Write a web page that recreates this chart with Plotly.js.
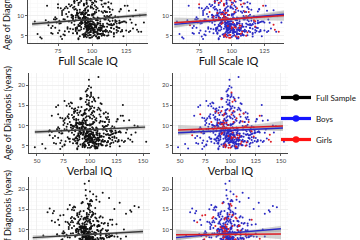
<!DOCTYPE html>
<html>
<head>
<meta charset="utf-8">
<script src="https://cdn.plot.ly/plotly-3.0.1.min.js"></script>
<style>
  html, body { margin: 0; padding: 0; overflow: hidden; background: #fff; width: 360px; height: 240px; }
  #chart { position: absolute; left: 0; top: -50px; width: 360px; height: 330px; }
</style>
</head>
<body>
<div id="chart"></div>
<script>
// Age at diagnosis (years), one entry per child
const ageDx = [
  7.2, 5.8, 9.4, 6.1, 12.3, 8.0, 4.6, 7.7, 10.9, 6.5, 15.2, 8.8, 5.3, 7.0, 11.6, 9.1, 6.8, 4.2, 13.7, 8.4,
  6.3, 9.9, 7.5, 5.1, 17.4, 8.2, 10.3, 6.0, 7.9, 12.8, 5.6, 9.6, 14.1, 7.3, 6.7, 8.6, 4.9, 11.2, 7.1, 9.0,
  21.3, 6.2, 8.1, 5.5, 10.6, 7.6, 13.2, 6.9, 9.3, 4.4, 7.4, 16.3, 8.7, 5.9, 11.9, 6.4, 10.1, 7.8, 5.0, 12.1,
  8.3, 6.6, 9.7, 18.2, 7.0, 5.4, 10.8, 6.1, 8.5, 14.6, 7.2, 5.7, 9.2, 11.4, 6.8, 4.7, 8.9, 13.0, 7.5, 6.0,
  9.8, 5.2, 22.0, 7.7, 10.4, 6.3, 8.0, 15.8, 5.8, 9.5, 7.3, 12.6, 6.5, 4.3, 8.2, 11.0, 7.9, 6.2, 17.0, 9.0,
  5.6, 8.6, 7.1, 10.2, 6.7, 13.5, 5.3, 9.3, 7.6, 4.8, 11.7, 8.1, 6.0, 16.6, 7.4, 9.9, 5.9, 12.4, 8.4, 6.9,
  10.7, 7.2, 5.0, 14.3, 8.8, 6.4, 9.6, 7.8, 19.1, 5.5, 8.3, 11.3, 6.6, 7.0, 10.0, 4.5, 12.9, 8.7, 6.1, 9.1,
  7.5, 15.0, 5.7, 8.0, 6.8, 10.5, 7.3, 13.9, 5.1, 9.4, 6.3, 8.5, 11.8, 7.7, 4.1, 17.8, 6.9, 9.7, 8.2, 5.4,
  12.2, 7.1, 6.5, 10.9, 8.9, 5.8, 16.0, 7.6, 9.2, 6.2, 11.5, 8.1, 4.9, 14.8, 7.4, 6.0, 10.3, 8.6, 5.2, 13.3,
  7.9, 6.7, 9.5, 18.7, 5.6, 8.3, 7.0, 11.1, 6.4, 9.8, 12.7, 5.3, 8.0, 7.2, 15.5, 6.6, 10.6, 4.6, 8.8, 7.6,
  6.1, 9.0, 13.6, 5.9, 7.8, 10.1, 6.9, 8.4, 16.9, 5.0, 7.3, 11.4, 9.3, 6.3, 12.0, 8.2, 5.5, 14.0, 7.1, 9.6,
  6.8, 10.8, 5.7, 8.6, 7.5, 19.8, 6.0, 9.1, 11.9, 7.7, 4.4, 8.0, 13.1, 6.5, 10.4, 5.4, 7.9, 15.3, 8.7, 6.2,
  9.4, 7.4, 12.5, 5.1, 8.1, 6.7, 17.2, 10.0, 7.0, 5.8, 9.7, 14.4, 6.4, 8.5, 11.2, 7.6, 4.8, 10.7, 6.9, 8.3,
  10.2, 6.9, 13.8, 8.3, 5.2, 11.5, 7.4, 15.6, 9.0, 6.1, 12.7, 4.7, 8.8, 10.9, 7.0, 14.2, 5.8, 9.5, 11.1, 6.4,
  8.0, 12.4, 6.7, 9.9, 16.4, 5.5, 10.5, 7.8, 13.1, 4.9, 8.6, 11.8, 6.2, 9.2, 15.1, 7.3, 10.0, 5.1, 12.9, 8.4,
  6.6, 11.3, 9.6, 14.9, 7.1, 5.9, 10.7, 8.2, 17.6, 6.0, 12.2, 9.0, 4.5, 11.0, 7.7, 13.4, 8.9, 6.3, 10.3, 14.6,
  5.4, 9.3, 7.6, 12.0, 8.5, 16.1, 6.8, 10.8, 7.2, 13.7, 5.7, 9.8, 11.6, 4.3, 8.1, 15.4, 6.5, 10.1, 7.9, 12.6,
  9.1, 6.2, 11.9, 7.5, 14.5, 8.7, 5.3, 10.4, 6.9, 13.0, 8.3, 17.0, 5.9, 9.7, 11.2, 7.0, 12.3, 4.8, 8.9, 10.6,
  7.3, 15.9, 6.1, 9.4, 11.4, 5.6, 8.0, 13.3, 6.6, 10.0, 7.8, 12.5, 9.2, 5.0, 14.1, 8.4, 6.7, 10.9, 7.1, 18.4,
  11.7, 6.4, 8.6, 13.9, 5.2, 9.6, 7.4, 10.2, 16.7, 6.0, 8.2, 12.1, 7.6, 4.6, 11.1, 9.0, 14.7, 6.8, 10.5, 8.8,
  5.8, 12.8, 7.7, 9.9, 6.3, 15.2, 8.1, 10.7, 5.5, 13.6, 7.0, 9.3, 11.5, 6.5, 8.5, 16.2, 4.4, 10.3, 7.9, 12.3,
  9.5, 6.9, 14.3, 8.3, 5.1, 11.8, 7.2, 10.1, 13.2, 6.2, 8.9, 15.7, 7.5, 9.7, 5.7, 12.0, 8.0, 10.8, 6.6, 17.3,
  7.8, 10.4, 5.9, 13.5, 9.1, 6.7, 11.3, 8.6, 14.8, 4.9, 9.4, 7.3, 12.6, 6.0, 10.6, 8.2, 15.0, 5.4, 11.0, 7.6,
  12.9, 8.7, 6.4, 10.0, 7.1, 16.5, 5.6, 9.8, 11.6, 6.8, 13.8, 8.4, 5.0, 10.5, 7.7, 12.2, 9.2, 6.1, 14.0, 8.0,
  6.5, 11.2, 8.8, 5.3, 13.1, 7.4, 10.2, 9.0, 15.5, 6.2, 8.3, 12.7, 4.7, 9.6, 7.0, 11.4, 6.9, 14.4, 8.5, 10.9,
  7.5, 13.0, 5.8, 9.3, 12.4, 6.3, 10.7, 8.1, 16.8, 5.5, 11.8, 7.9, 9.9, 6.6, 13.6, 8.6, 4.5, 10.1, 7.2, 19.4
];

// Full Scale IQ
const fsiq = [
  97, 102, 90, 108, 84, 99, 62, 95, 113, 88, 100, 104, 93, 97, 121, 86, 101, 78, 107, 95,
  91, 111, 99, 80, 102, 104, 89, 96, 116, 75, 101, 94, 106, 98, 84, 99, 103, 127, 92, 110,
  96, 88, 98, 105, 95, 114, 100, 70, 97, 90, 108, 102, 93, 99, 86, 122, 97, 104, 94, 112,
  101, 92, 82, 104, 96, 106, 89, 110, 98, 72, 95, 116, 93, 103, 88, 100, 96, 109, 91, 134,
  130, 98, 105, 95, 101, 90, 104, 99, 112, 85, 99, 94, 102, 63, 97, 107, 92, 119, 104, 96,
  89, 100, 106, 94, 97, 87, 104, 115, 97, 77, 101, 91, 108, 103, 96, 86, 99, 126, 95, 106,
  93, 98, 111, 86, 103, 97, 90, 101, 100, 107, 92, 132, 96, 105, 88, 99, 96, 115, 102, 79,
  97, 74, 95, 106, 100, 89, 103, 98, 109, 93, 99, 83, 104, 98, 90, 102, 120, 94, 96, 106,
  87, 102, 97, 110, 92, 98, 103, 68, 99, 113, 95, 105, 91, 101, 96, 136, 92, 97, 108, 96,
  99, 94, 104, 101, 86, 101, 114, 97, 106, 90, 100, 96, 76, 103, 108, 98, 93, 105, 88, 102,
  96, 109, 92, 103, 98, 85, 100, 95, 106, 97, 118, 91, 102, 97, 112, 93, 104, 99, 89, 101,
  96, 103, 97, 92, 107, 98, 110, 94, 99, 87, 105, 96, 90, 101, 95, 60, 100, 108, 95, 104,
  91, 97, 102, 112, 93, 99, 96, 89, 103, 98, 95, 106, 100, 124, 94, 97, 103, 92, 98, 138,
  85, 114, 96, 74, 102, 121, 90, 98, 128, 80, 107, 94, 66, 111, 100, 88, 118, 96, 78, 105,
  92, 124, 82, 109, 97, 71, 102, 116, 87, 95, 113, 77, 106, 91, 126, 99, 85, 109, 94, 68,
  104, 89, 119, 81, 100, 114, 93, 129, 97, 83, 108, 73, 98, 120, 90, 103, 112, 76, 100, 93,
  116, 86, 106, 96, 123, 79, 101, 91, 111, 99, 70, 117, 88, 104, 95, 82, 133, 97, 108, 85,
  98, 111, 75, 102, 90, 120, 95, 81, 107, 114, 92, 100, 127, 86, 105, 73, 99, 116, 94, 89,
  108, 101, 122, 91, 79, 104, 96, 112, 86, 135, 100, 94, 74, 107, 97, 117, 89, 102, 82, 96,
  95, 118, 87, 106, 99, 110, 71, 101, 93, 121, 85, 103, 115, 96, 109, 80, 100, 130, 90, 104,
  101, 83, 113, 94, 125, 98, 77, 108, 89, 102, 119, 95, 87, 110, 58, 99, 105, 92, 114, 97,
  88, 107, 100, 121, 95, 80, 109, 98, 91, 128, 103, 84, 96, 112, 75, 100, 118, 93, 105, 101,
  112, 93, 102, 87, 72, 116, 97, 106, 83, 123, 95, 108, 90, 101, 78, 120, 99, 94, 110, 103,
  96, 76, 107, 100, 118, 92, 104, 86, 113, 98, 89, 122, 101, 95, 132, 81, 106, 96, 87, 111,
  106, 95, 117, 79, 101, 91, 114, 99, 85, 109, 125, 94, 105, 73, 100, 115, 88, 103, 97, 83,
  99, 110, 89, 105, 67, 101, 96, 120, 92, 108, 82, 102, 113, 98, 87, 118, 104, 78, 95, 100
];

// Verbal IQ
const viq = [
  96, 104, 88, 112, 79, 101, 48, 93, 118, 85, 97, 107, 91, 99, 126, 83, 102, 72, 110, 94,
  89, 115, 100, 76, 98, 106, 87, 95, 121, 70, 103, 92, 109, 97, 81, 100, 105, 132, 90, 113,
  99, 86, 97, 108, 94, 119, 102, 65, 96, 88, 111, 104, 91, 100, 84, 127, 98, 106, 93, 117,
  103, 90, 78, 101, 95, 108, 87, 114, 99, 68, 96, 120, 92, 105, 86, 101, 97, 113, 89, 153,
  145, 99, 108, 94, 102, 88, 107, 96, 116, 82, 100, 92, 104, 58, 98, 110, 91, 124, 103, 95,
  87, 101, 109, 93, 98, 85, 106, 120, 96, 74, 102, 89, 111, 104, 97, 84, 100, 131, 94, 108,
  92, 99, 115, 83, 105, 96, 88, 102, 98, 110, 91, 137, 97, 107, 86, 100, 95, 119, 103, 76,
  98, 70, 94, 109, 101, 87, 104, 96, 112, 92, 100, 80, 106, 99, 88, 101, 125, 93, 97, 108,
  85, 103, 96, 114, 91, 99, 105, 62, 100, 117, 94, 107, 89, 102, 97, 140, 90, 98, 111, 95,
  100, 93, 106, 97, 84, 102, 118, 96, 109, 88, 101, 95, 73, 104, 110, 99, 92, 107, 86, 103,
  97, 112, 91, 105, 99, 82, 101, 94, 108, 96, 123, 89, 103, 98, 115, 92, 106, 100, 87, 102,
  95, 104, 98, 90, 109, 99, 113, 93, 100, 85, 107, 97, 88, 102, 96, 55, 101, 111, 94, 106,
  90, 98, 103, 116, 92, 100, 97, 87, 105, 99, 94, 108, 101, 128, 93, 96, 104, 91, 99, 143,
  82, 118, 95, 71, 104, 126, 88, 99, 135, 77, 109, 93, 62, 114, 101, 86, 122, 96, 75, 107,
  91, 129, 80, 112, 97, 68, 103, 120, 85, 95, 116, 74, 108, 90, 131, 99, 83, 111, 94, 64,
  106, 87, 123, 78, 101, 117, 92, 134, 97, 81, 110, 69, 98, 125, 89, 104, 115, 73, 100, 92,
  119, 84, 107, 96, 128, 76, 102, 90, 113, 99, 66, 121, 87, 105, 94, 80, 138, 97, 109, 83,
  98, 114, 72, 103, 89, 124, 95, 79, 108, 117, 91, 100, 132, 85, 106, 70, 99, 119, 93, 88,
  110, 102, 127, 90, 76, 105, 96, 115, 84, 142, 100, 93, 71, 108, 97, 120, 88, 103, 79, 96,
  94, 121, 86, 107, 99, 113, 67, 101, 92, 126, 83, 104, 118, 95, 110, 78, 100, 136, 89, 105,
  102, 80, 116, 93, 130, 98, 74, 109, 88, 103, 123, 95, 85, 112, 61, 99, 106, 91, 117, 97,
  87, 108, 101, 125, 94, 77, 111, 98, 90, 133, 104, 82, 96, 114, 72, 100, 122, 93, 106, 101,
  115, 92, 103, 86, 69, 119, 97, 107, 81, 128, 95, 110, 89, 101, 76, 124, 99, 93, 112, 104,
  96, 73, 109, 100, 121, 91, 105, 84, 116, 98, 88, 127, 102, 94, 139, 79, 107, 96, 85, 113,
  108, 95, 120, 76, 102, 90, 117, 99, 83, 111, 129, 94, 106, 70, 100, 118, 87, 104, 97, 81,
  99, 113, 88, 106, 64, 102, 96, 124, 91, 110, 80, 103, 116, 98, 86, 121, 105, 75, 95, 101
];

// Performance IQ
const piq = [
  98, 100, 93, 104, 90, 97, 78, 97, 108, 92, 62, 101, 95, 96, 114, 89, 100, 85, 103, 96,
  94, 107, 98, 86, 106, 102, 92, 97, 110, 82, 99, 96, 103, 99, 88, 98, 101, 121, 95, 106,
  95, 91, 99, 102, 96, 108, 98, 77, 98, 93, 105, 100, 95, 98, 89, 116, 96, 102, 95, 107,
  99, 94, 87, 106, 97, 104, 91, 106, 97, 66, 94, 111, 94, 101, 90, 99, 95, 105, 93, 124,
  117, 97, 99, 96, 100, 92, 101, 142, 107, 89, 98, 96, 100, 70, 96, 104, 93, 113, 102, 97,
  91, 99, 103, 95, 96, 72, 102, 110, 98, 81, 100, 93, 105, 128, 97, 89, 98, 119, 96, 103,
  94, 97, 107, 60, 101, 98, 92, 100, 112, 104, 94, 125, 95, 103, 91, 98, 97, 69, 100, 84,
  96, 79, 96, 103, 99, 91, 102, 134, 106, 94, 98, 87, 67, 97, 92, 118, 115, 95, 97, 104,
  64, 100, 98, 107, 94, 97, 99, 74, 98, 109, 93, 103, 92, 138, 97, 130, 94, 96, 105, 97,
  98, 95, 102, 103, 88, 100, 110, 71, 104, 92, 98, 97, 81, 101, 146, 97, 95, 103, 90, 100,
  97, 106, 75, 101, 97, 88, 99, 96, 109, 98, 113, 93, 100, 96, 108, 94, 102, 65, 91, 99,
  97, 101, 96, 93, 104, 96, 107, 95, 98, 90, 102, 97, 83, 100, 96, 63, 99, 105, 96, 102,
  93, 96, 100, 109, 94, 98, 101, 90, 101, 97, 96, 139, 99, 121, 95, 98, 101, 93, 97, 134,
  88, 111, 97, 76, 103, 117, 91, 99, 125, 83, 106, 95, 69, 109, 100, 90, 115, 97, 81, 104,
  93, 121, 84, 107, 98, 74, 101, 113, 89, 96, 110, 79, 105, 92, 123, 99, 87, 107, 95, 71,
  103, 90, 116, 83, 100, 112, 94, 126, 97, 85, 107, 75, 98, 117, 91, 102, 110, 78, 100, 94,
  114, 87, 105, 96, 120, 81, 101, 92, 109, 99, 72, 115, 89, 103, 95, 84, 130, 97, 107, 86,
  98, 109, 77, 102, 91, 118, 95, 83, 106, 112, 93, 100, 124, 87, 104, 75, 99, 114, 94, 90,
  106, 101, 120, 92, 80, 103, 96, 110, 87, 132, 100, 94, 76, 106, 97, 115, 90, 102, 84, 96,
  95, 116, 88, 105, 99, 108, 73, 101, 93, 119, 86, 103, 113, 96, 108, 82, 100, 127, 91, 104,
  101, 85, 111, 94, 122, 98, 79, 107, 90, 102, 117, 95, 88, 109, 56, 99, 104, 92, 112, 97,
  89, 106, 100, 119, 95, 82, 108, 98, 92, 126, 103, 85, 96, 110, 77, 100, 116, 93, 104, 101,
  110, 93, 102, 88, 74, 114, 97, 105, 85, 121, 95, 107, 91, 101, 80, 118, 99, 94, 109, 103,
  96, 78, 106, 100, 116, 92, 103, 87, 111, 98, 90, 120, 101, 95, 129, 83, 105, 96, 88, 110,
  105, 95, 115, 81, 101, 92, 112, 99, 86, 108, 123, 94, 104, 75, 100, 113, 89, 102, 97, 85,
  99, 109, 90, 104, 70, 101, 96, 118, 93, 107, 84, 102, 111, 98, 88, 116, 103, 80, 95, 100
];

// B = boy, G = girl
const sex = (
  "BBGBBBBBGBBBBBBGBBBB" + "BGBBBBBBBGBBBBBBGBBB" + "BBBBGBBBBBBGBBBBBBGB" +
  "BBBGBBBBBBBBGBBBBGBB" + "BGBBBBBBGBBBBBBBGBBB" + "BBBBBGBBBBBBGBBBBBBG" +
  "BBGBBBBBBGBBBBBGBBBB" + "BBBBGBBBBBBBGBBBBGBB" + "BGBBBBBGBBBBBBBGBBBB" +
  "BBBBBGBBBBGBBBBBBBGB" + "BBGBBBBBBBGBBBBGBBBB" + "BBBBGBBBBBBBGBBBBBGB" +
  "BGBBBBBBGBBBBBGBBBBB" + "BBBGBBBBBBGBBBBBBGBB" + "BGBBBBBBBGBBBBBBBBGB" +
  "BBBBGBBBBBBBGBBBBBBB" + "BBGBBBBBBGBBBBBBGBBB" + "BBBBBBGBBBBBBGBBBBBG" +
  "BGBBBBBBBBBGBBBBBGBB" + "BBBBGBBBBBBBBGBBBBBB" + "BBBGBBBBBGBBBBBBBGBB" +
  "BBBBBBBGBBBBBGBBBBBB" + "BGBBBBBBBBGBBBBBBBGB" + "BBBBBGBBBBBBBBGBBBBB" +
  "BBGBBBBBBBBBGBBBBBBG" + "BBBBBBGBBBBBBBBGBBBB"
).split("");

// Linear fits with confidence half-widths, sampled along each IQ scale
const fsiqFitX   = [56, 77, 98, 119, 140];
const fsiqAll    = [7.9, 8.48, 9.05, 9.63, 10.2];
const fsiqAllCi  = [0.6, 0.32, 0.16, 0.32, 0.6];
const fsiqBoys   = [7.8, 8.42, 9.05, 9.68, 10.3];
const fsiqBoysCi = [0.7, 0.36, 0.18, 0.36, 0.7];
const fsiqGirls  = [8.2, 8.65, 9.1, 9.55, 10.0];
const fsiqGirlsCi= [1.3, 0.7, 0.38, 0.7, 1.3];

const viqFitX    = [48, 74, 100, 126, 152];
const viqAll     = [8.4, 8.7, 9.0, 9.3, 9.6];
const viqAllCi   = [0.55, 0.28, 0.15, 0.3, 0.6];
const viqBoys    = [8.2, 8.5, 8.8, 9.1, 9.4];
const viqBoysCi  = [0.65, 0.33, 0.17, 0.34, 0.7];
const viqGirls   = [8.9, 9.15, 9.4, 9.65, 9.9];
const viqGirlsCi = [1.2, 0.65, 0.35, 0.65, 1.2];

const piqFitX    = [46, 72, 98, 124, 150];
const piqAll     = [8.0, 8.38, 8.75, 9.13, 9.5];
const piqAllCi   = [0.6, 0.3, 0.16, 0.32, 0.62];
const piqBoys    = [8.0, 8.55, 9.1, 9.65, 10.2];
const piqBoysCi  = [0.7, 0.36, 0.18, 0.36, 0.72];
const piqGirls   = [8.7, 8.75, 8.8, 8.85, 8.9];
const piqGirlsCi = [1.3, 0.7, 0.38, 0.7, 1.3];

const yTicks = [5, 10, 15, 20];
const fsiqTicks = [75, 100, 125];
const viqTicks = [50, 75, 100, 125, 150];
const piqTicks = [50, 75, 100, 125, 150];

const BLUE = "#2a2ac4";
const RED = "#dc1c24";
const FONT = "Lato, 'Liberation Sans', sans-serif";

function pick(arr, who) {
  return arr.filter((_, i) => sex[i] === who);
}

function ribbon(xs, mid, ci, xa, ya) {
  const up = mid.map((v, i) => v + ci[i]);
  const lo = mid.map((v, i) => v - ci[i]);
  return {
    type: "scatter", mode: "lines", xaxis: xa, yaxis: ya,
    x: xs.concat(xs.slice().reverse()),
    y: up.concat(lo.slice().reverse()),
    fill: "toself", fillcolor: "rgba(140,140,140,0.38)",
    line: { width: 0 }, showlegend: false, hoverinfo: "skip"
  };
}

function fitLine(xs, mid, color, xa, ya) {
  return {
    type: "scatter", mode: "lines", xaxis: xa, yaxis: ya,
    x: xs, y: mid, line: { color: color, width: 1.4 },
    showlegend: false, hoverinfo: "skip"
  };
}

function dots(xs, ys, color, xa, ya) {
  return {
    type: "scatter", mode: "markers", xaxis: xa, yaxis: ya,
    x: xs, y: ys, marker: { color: color, size: 2 },
    showlegend: false, hoverinfo: "skip"
  };
}

const traces = [];
const rows = [
  { iq: fsiq, fx: fsiqFitX, all: fsiqAll, allCi: fsiqAllCi, b: fsiqBoys, bCi: fsiqBoysCi, g: fsiqGirls, gCi: fsiqGirlsCi },
  { iq: viq,  fx: viqFitX,  all: viqAll,  allCi: viqAllCi,  b: viqBoys,  bCi: viqBoysCi,  g: viqGirls,  gCi: viqGirlsCi },
  { iq: piq,  fx: piqFitX,  all: piqAll,  allCi: piqAllCi,  b: piqBoys,  bCi: piqBoysCi,  g: piqGirls,  gCi: piqGirlsCi }
];

rows.forEach((r, k) => {
  const xl = "x" + (2 * k + 1), yl = "y" + (2 * k + 1);
  const xr = "x" + (2 * k + 2), yr = "y" + (2 * k + 2);
  // full sample
  traces.push(dots(r.iq, ageDx, "#111111", xl, yl));
  traces.push(ribbon(r.fx, r.all, r.allCi, xl, yl));
  traces.push(fitLine(r.fx, r.all, "#3a3a3a", xl, yl));
  // by sex
  traces.push(dots(pick(r.iq, "B"), pick(ageDx, "B"), BLUE, xr, yr));
  traces.push(dots(pick(r.iq, "G"), pick(ageDx, "G"), RED, xr, yr));
  traces.push(ribbon(r.fx, r.b, r.bCi, xr, yr));
  traces.push(ribbon(r.fx, r.g, r.gCi, xr, yr));
  traces.push(fitLine(r.fx, r.b, BLUE, xr, yr));
  traces.push(fitLine(r.fx, r.g, RED, xr, yr));
});

// legend entries
[["Full Sample", "#000000"], ["Boys", "#1515ff"], ["Girls", "#ff1111"]].forEach(([name, c], i) => {
  traces.push({
    type: "scatter", mode: "lines+markers", x: [null], y: [null],
    xaxis: "x4", yaxis: "y4", name: name, legendgroup: "g" + i,
    line: { color: c, width: 3.2 }, marker: { color: c, size: 6.5 }
  });
});

const H = 330;
const yd = (top, bottom) => [1 - bottom / H, 1 - top / H];
const xd = (l, r) => [l / 360, r / 360];

function xAxis(dom, range, ticks, anchor, title) {
  const a = {
    domain: dom, range: range, anchor: anchor,
    tickvals: ticks, ticks: "outside", ticklen: 2, tickwidth: 0.8, tickcolor: "#333",
    tickfont: { size: 6, color: "#444", family: FONT },
    showline: true, linecolor: "#333", linewidth: 0.9,
    showgrid: true, gridcolor: "#ebebeb", gridwidth: 0.7,
    minor: { showgrid: true, gridcolor: "#f5f5f5", gridwidth: 0.5 },
    zeroline: false, fixedrange: true
  };
  if (title) a.title = { text: title, font: { size: 11, color: "#111", family: FONT }, standoff: 1 };
  return a;
}

function yAxis(dom, anchor, title) {
  const a = {
    domain: dom, range: [3.2, 23], anchor: anchor,
    tickvals: yTicks, ticks: "outside", ticklen: 2, tickwidth: 0.8, tickcolor: "#333",
    tickfont: { size: 6, color: "#444", family: FONT },
    showline: true, linecolor: "#333", linewidth: 0.9,
    showgrid: true, gridcolor: "#ebebeb", gridwidth: 0.7,
    minor: { showgrid: true, gridcolor: "#f5f5f5", gridwidth: 0.5 },
    zeroline: false, fixedrange: true
  };
  if (title) a.title = { text: title, font: { size: 9, color: "#111", family: FONT }, standoff: 4 };
  return a;
}

const yTitle = "Age of Diagnosis (years)";
const layout = {
  width: 360, height: H,
  margin: { l: 0, r: 0, t: 0, b: 0, autoexpand: false },
  paper_bgcolor: "#fff", plot_bgcolor: "#fff",
  font: { family: FONT },
  showlegend: true,
  legend: {
    x: 276 / 360, xanchor: "left", y: 1 - 133 / H, yanchor: "top",
    font: { size: 8, color: "#111", family: FONT },
    tracegroupgap: 2, bgcolor: "rgba(0,0,0,0)", itemwidth: 30
  },
  xaxis:  xAxis(xd(28, 148), [53, 141], fsiqTicks, "y", "Full Scale IQ"),
  yaxis:  yAxis(yd(13, 93), "x", yTitle),
  xaxis2: xAxis(xd(173, 284), [55, 140], fsiqTicks, "y2", "Full Scale IQ"),
  yaxis2: yAxis(yd(13, 93), "x2"),
  xaxis3: xAxis(xd(29, 150), [42.5, 156.6], viqTicks, "y3", "Verbal IQ"),
  yaxis3: yAxis(yd(123, 203), "x3", yTitle),
  xaxis4: xAxis(xd(173, 288), [43, 157], viqTicks, "y4", "Verbal IQ"),
  yaxis4: yAxis(yd(123, 203), "x4"),
  xaxis5: xAxis(xd(29, 150), [42.5, 156.6], piqTicks, "y5"),
  yaxis5: yAxis(yd(227, 307), "x5", yTitle),
  xaxis6: xAxis(xd(173, 288), [43, 157], piqTicks, "y6"),
  yaxis6: yAxis(yd(227, 307), "x6")
};

Plotly.newPlot("chart", traces, layout, { staticPlot: true, displayModeBar: false });
</script>
</body>
</html>
